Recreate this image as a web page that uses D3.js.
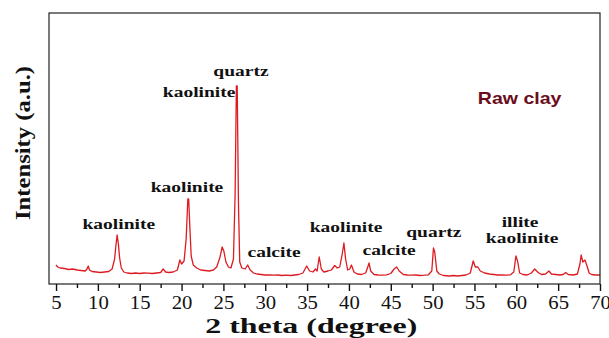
<!DOCTYPE html>
<html>
<head>
<meta charset="utf-8">
<script src="https://cdn.jsdelivr.net/npm/d3@7"></script>
<style>
  body { margin: 0; background: #fff; }
  svg text { font-family: "Liberation Serif", "Times New Roman", serif; }
</style>
</head>
<body>
<div class="chart"></div>
<script>
// XRD pattern of the raw clay (2 theta in degrees, intensity a.u.)
var twoTheta = [5.0, 5.2, 5.5, 6.0, 6.5, 7.0, 7.5, 8.0, 8.5, 8.7, 8.85, 9.0, 9.3, 9.8, 10.3, 10.8, 11.3, 11.7,
  12.0, 12.15, 12.3, 12.45, 12.6, 12.8, 13.1, 13.5, 14.0, 14.5, 15.0, 15.5, 16.0, 16.5, 17.0, 17.5, 17.8, 18.1,
  18.5, 19.0, 19.5, 19.8, 20.0, 20.3, 20.55, 20.75, 20.85, 21.0, 21.15, 21.4, 21.8, 22.3, 22.8, 23.3, 23.8,
  24.2, 24.6, 24.85, 25.05, 25.3, 25.6, 25.9, 26.2, 26.4, 26.55, 26.65, 26.8, 26.95, 27.2, 27.6, 27.9, 28.2,
  28.6, 29.0, 29.5, 30.0, 30.5, 31.0, 31.5, 32.0, 32.5, 33.0, 33.5, 34.0, 34.5, 34.95, 35.3, 35.7, 36.0, 36.2,
  36.45, 36.7, 37.0, 37.5, 37.9, 38.3, 38.6, 38.9, 39.2, 39.4, 39.6, 39.85, 40.1, 40.3, 40.6, 41.0, 41.5, 42.0,
  42.25, 42.4, 42.6, 43.0, 43.5, 44.0, 44.5, 45.0, 45.4, 45.7, 46.0, 46.5, 47.0, 47.5, 48.0, 48.5, 49.0, 49.5,
  49.9, 50.1, 50.25, 50.5, 50.8, 51.3, 52.0, 52.5, 53.0, 53.5, 54.0, 54.5, 54.85, 55.1, 55.4, 55.7, 56.2, 56.8,
  57.3, 57.8, 58.3, 58.8, 59.3, 59.7, 59.95, 60.15, 60.4, 60.8, 61.3, 61.8, 62.2, 62.6, 63.0, 63.5, 63.9, 64.2,
  64.7, 65.2, 65.6, 65.9, 66.2, 66.8, 67.3, 67.6, 67.75, 67.95, 68.2, 68.45, 68.7, 69.0, 69.5, 70.0];
var intensity = [190, 170, 160, 155, 145, 150, 140, 135, 130, 150, 180, 140, 125, 120, 115, 120, 125, 150,
  250, 380, 490, 400, 260, 160, 120, 110, 105, 110, 105, 110, 108, 105, 110, 115, 150, 120,
  115, 120, 140, 240, 200, 230, 450, 850, 850, 550, 280, 190, 160, 140, 135, 130, 140,
  170, 270, 370, 330, 220, 170, 160, 250, 900, 1980, 1980, 800, 220, 160, 150, 190, 140,
  110, 100, 95, 90, 92, 88, 90, 85, 88, 85, 90, 95, 110, 180, 130, 120, 150, 130,
  270, 150, 120, 130, 140, 185, 160, 170, 300, 410, 250, 140, 150, 190, 120, 100, 95, 110,
  170, 210, 130, 95, 90, 88, 92, 105, 150, 170, 130, 95, 90, 88, 90, 85, 88, 92,
  130, 360, 320, 130, 100, 85, 80, 85, 80, 85, 90, 110, 230, 170, 170, 130, 110, 100,
  95, 90, 92, 88, 92, 120, 280, 230, 110, 95, 90, 110, 150, 115, 95, 100, 130, 100,
  95, 90, 95, 115, 95, 90, 100, 200, 290, 220, 240, 180, 110, 95, 90, 90];

// phase labels: text, 2 theta of the label centre, intensity level of its baseline
var peakLabels = ["kaolinite", "kaolinite", "kaolinite", "quartz", "calcite", "kaolinite", "calcite", "quartz", "illite", "kaolinite"];
var labelTheta = [12.5, 20.65, 22.1, 27.1, 31.05, 39.65, 44.8, 50.15, 60.45, 60.7];
var labelLevel = [550, 920, 1870, 2080, 270, 520, 290, 470, 570, 410];

var xTicks = [5, 10, 15, 20, 25, 30, 35, 40, 45, 50, 55, 60, 65, 70];
var xMinorTicks = [7.5, 12.5, 17.5, 22.5, 27.5, 32.5, 37.5, 42.5, 47.5, 52.5, 57.5, 62.5, 67.5];

var sampleName = "Raw clay";

var margin = {top: 13, right: 9, bottom: 54, left: 49},
    width = 609 - margin.left - margin.right,
    height = 338 - margin.top - margin.bottom;

var x = d3.scaleLinear().domain([4.16, 70]).range([0, width]);
var y = d3.scaleLinear().domain([0, 2710]).range([height, 0]);

var svg = d3.select("div.chart").append("svg")
    .attr("width", width + margin.left + margin.right)
    .attr("height", height + margin.top + margin.bottom)
  .append("g")
    .attr("transform", "translate(" + margin.left + "," + margin.top + ")");

// stretch text horizontally, the source figure is widened
function stretch(sel, factor) {
  sel.each(function() {
    var len = this.getComputedTextLength();
    d3.select(this).attr("textLength", len * factor).attr("lengthAdjust", "spacingAndGlyphs");
  });
}

var points = twoTheta.map(function(t, i) { return [t, intensity[i]]; });

var line = d3.line()
    .x(function(d) { return x(d[0]); })
    .y(function(d) { return y(d[1]); });

svg.append("path")
    .datum(points)
    .attr("fill", "none")
    .attr("stroke", "#dd1c22")
    .attr("stroke-width", 1.3)
    .attr("stroke-linejoin", "round")
    .attr("d", line);

// frame
svg.append("rect")
    .attr("width", width)
    .attr("height", height)
    .attr("fill", "none")
    .attr("stroke", "#222")
    .attr("stroke-width", 1.2);

var xAxis = svg.append("g")
    .attr("transform", "translate(0," + height + ")")
    .call(d3.axisBottom(x).tickValues(xTicks).tickSize(7).tickPadding(5));
xAxis.select(".domain").remove();
xAxis.selectAll(".tick line").attr("stroke", "#111").attr("stroke-width", 1.4);
xAxis.selectAll(".tick text")
    .attr("font-size", "18px")
    .attr("fill", "#111")
    .style("font-family", "'Liberation Serif', serif")
    .call(stretch, 1.15);

svg.append("g")
    .attr("transform", "translate(0," + height + ")")
    .call(d3.axisBottom(x).tickValues(xMinorTicks).tickSize(4).tickFormat(""))
    .call(function(g) { g.select(".domain").remove(); })
    .selectAll(".tick line").attr("stroke", "#111").attr("stroke-width", 1.4);

svg.selectAll(".peak-label")
    .data(peakLabels)
  .enter().append("text")
    .attr("class", "peak-label")
    .attr("x", function(d, i) { return x(labelTheta[i]); })
    .attr("y", function(d, i) { return y(labelLevel[i]); })
    .attr("text-anchor", "middle")
    .attr("font-size", "15px")
    .attr("font-weight", "bold")
    .attr("fill", "#111")
    .text(function(d) { return d; })
    .call(stretch, 1.3);

svg.append("text")
    .attr("x", x(60.4))
    .attr("y", y(1800))
    .attr("text-anchor", "middle")
    .attr("font-size", "17px")
    .attr("font-weight", "bold")
    .attr("fill", "#6a0d1c")
    .style("font-family", "'Liberation Sans', Arial, sans-serif")
    .text(sampleName)
    .call(stretch, 1.15);

// axis titles
svg.append("text")
    .attr("x", x(35.5))
    .attr("y", height + 49)
    .attr("text-anchor", "middle")
    .attr("font-size", "22px")
    .attr("font-weight", "bold")
    .attr("fill", "#111")
    .text("2 theta (degree)")
    .call(stretch, 1.45);

svg.append("text")
    .attr("transform", "translate(-19," + 130 + ") rotate(-90)")
    .attr("text-anchor", "middle")
    .attr("font-size", "22px")
    .attr("font-weight", "bold")
    .attr("fill", "#111")
    .text("Intensity (a.u.)")
    .call(stretch, 1.12);
</script>
</body>
</html>
